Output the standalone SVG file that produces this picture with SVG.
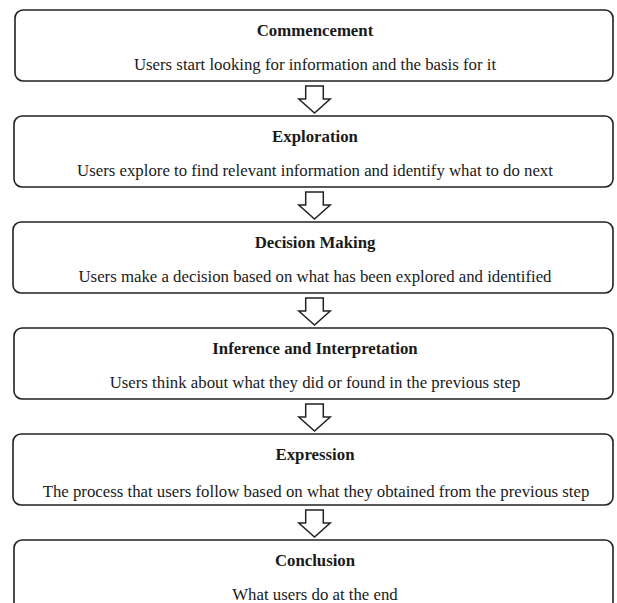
<svg xmlns="http://www.w3.org/2000/svg" width="617" height="603" viewBox="0 0 617 603">
<defs>
<style>
.box{fill:#ffffff;stroke:#222222;stroke-width:1.6}
.arrow{fill:#ffffff;stroke:#222222;stroke-width:1.5;stroke-linejoin:miter}
.title{font-family:"Liberation Serif","Times New Roman",serif;font-weight:bold;font-size:16.8px;fill:#1a1a1a;text-anchor:middle}
.body{font-family:"Liberation Serif","Times New Roman",serif;font-size:16.8px;fill:#1a1a1a;text-anchor:middle}
</style>
<path id="dn" class="arrow" d="M-8.8,0 H8.8 V13 H15.7 L0,27 L-15.7,13 H-8.8 Z"/>
</defs>
<rect width="617" height="603" fill="#ffffff"/>
<g id="connectors">
<use href="#dn" x="314.5" y="86"/>
<use href="#dn" x="314.5" y="192"/>
<use href="#dn" x="314.5" y="298"/>
<use href="#dn" x="314.5" y="404"/>
<use href="#dn" x="314.5" y="510"/>
</g>
<g id="commencement">
<rect class="box" x="15" y="10" width="598" height="71" rx="8"/>
<text class="title" x="315" y="36">Commencement</text>
<text class="body" x="315" y="70">Users start looking for information and the basis for it</text>
</g>
<g id="exploration">
<rect class="box" x="14" y="116" width="599" height="71" rx="8"/>
<text class="title" x="315" y="142">Exploration</text>
<text class="body" x="315" y="176">Users explore to find relevant information and identify what to do next</text>
</g>
<g id="decision-making">
<rect class="box" x="13" y="222" width="600" height="71" rx="8"/>
<text class="title" x="315" y="248">Decision Making</text>
<text class="body" x="315" y="282">Users make a decision based on what has been explored and identified</text>
</g>
<g id="inference">
<rect class="box" x="14" y="328" width="599" height="71" rx="8"/>
<text class="title" x="315" y="354">Inference and Interpretation</text>
<text class="body" x="315" y="388">Users think about what they did or found in the previous step</text>
</g>
<g id="expression">
<rect class="box" x="13" y="434" width="600" height="71" rx="8"/>
<text class="title" x="315" y="460">Expression</text>
<text class="body" x="316" y="497">The process that users follow based on what they obtained from the previous step</text>
</g>
<g id="conclusion">
<rect class="box" x="14" y="540" width="599" height="80" rx="8"/>
<text class="title" x="315" y="566">Conclusion</text>
<text class="body" x="315" y="600">What users do at the end</text>
</g>
</svg>
